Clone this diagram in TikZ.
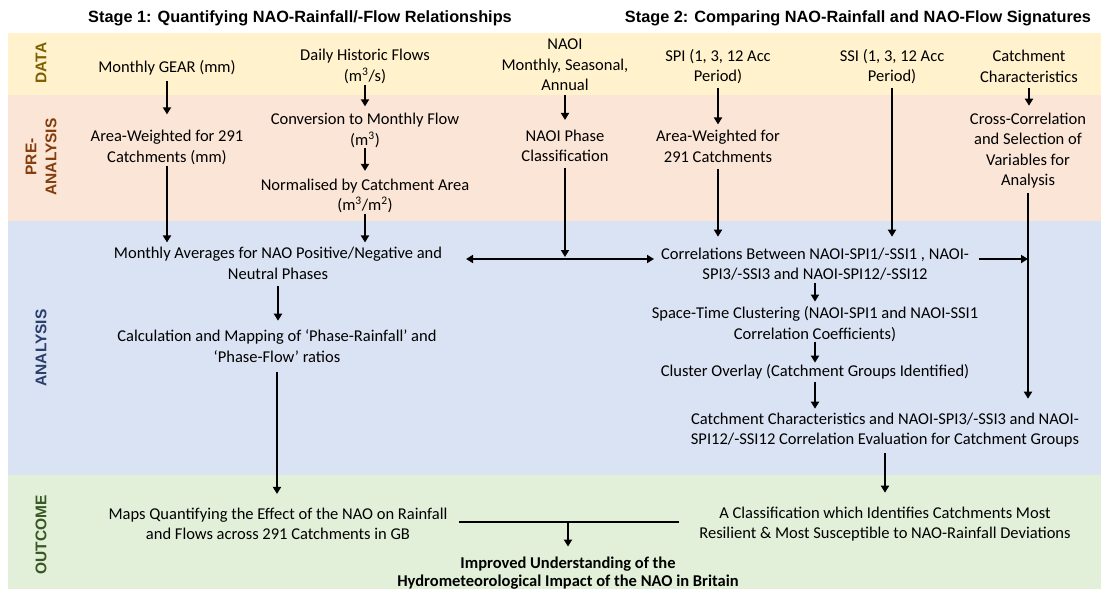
\documentclass[tikz,border=0pt]{standalone}
\usepackage{fontspec}
\setmainfont{Carlito}
\newfontfamily\hdfont{Liberation Sans}
\usetikzlibrary{arrows.meta,calc}
\definecolor{bData}{HTML}{FFF2CC}
\definecolor{bPre}{HTML}{FBE5D6}
\definecolor{bAna}{HTML}{DAE3F3}
\definecolor{bOut}{HTML}{E2F0D9}
\definecolor{lData}{HTML}{7F6000}
\definecolor{lPre}{HTML}{843C0C}
\definecolor{lAna}{HTML}{2B3D6B}
\definecolor{lOut}{HTML}{385723}
\begin{document}
\begin{tikzpicture}[x=1pt,y=-1pt,
  txt/.style={align=center, inner sep=0pt, outer sep=0pt, font=\fontsize{16.5}{20.5}\selectfont},
  boldtxt/.style={align=center, inner sep=0pt, outer sep=0pt, font=\fontsize{16.5}{18.5}\selectfont\bfseries},
  header/.style={inner sep=0pt, font=\hdfont\bfseries\fontsize{16.3}{19}\selectfont},
  bandlabel/.style={rotate=90, align=center, inner sep=0pt, font=\hdfont\bfseries\fontsize{15.5}{20}\selectfont},
  arr/.style={line width=2pt, -{Triangle[length=7pt,width=8pt]}},
  darr/.style={line width=2pt, {Triangle[length=7pt,width=8pt]}-{Triangle[length=7pt,width=8pt]}},
  plain/.style={line width=2pt}]
\useasboundingbox (0,0) rectangle (1101,589);
\fill[white] (0,0) rectangle (1101,589);
% bands
\fill[bData] (8,33) rectangle (1101,95);
\fill[bPre] (8,95) rectangle (1101,221);
\fill[bAna] (8,221) rectangle (1101,475);
\fill[bOut] (8,475) rectangle (1101,589);
% band labels
\node[bandlabel, text=lData] (lbData) at (41,63) {DATA};
\node[bandlabel, text=lPre] (lbPre) at (41,157) {PRE-\\ANALYSIS};
\node[bandlabel, text=lAna] (lbAna) at (41,348) {ANALYSIS};
\node[bandlabel, text=lOut] (lbOut) at (41,535) {OUTCOME};
% headers
\node[header] (h1) at (300,18) {Stage 1: Quantifying NAO-Rainfall/-Flow Relationships};
\node[header] (h2) at (858,18) {Stage 2: Comparing NAO-Rainfall and NAO-Flow Signatures};
% data row
\node[txt] (gear) at (167,68) {Monthly GEAR (mm)};
\node[txt] (flows) at (365,66.5) {Daily Historic Flows\\(m\textsuperscript{3}/s)};
\node[txt] (naoi) at (565,65) {NAOI\\Monthly, Seasonal,\\Annual};
\node[txt] (spi) at (718,66.5) {SPI (1, 3, 12 Acc\\Period)};
\node[txt] (ssi) at (892,66.5) {SSI (1, 3, 12 Acc\\Period)};
\node[txt] (cc) at (1029,66.5) {Catchment\\Characteristics};
% pre-analysis row
\node[txt] (aw1) at (167,147.5) {Area-Weighted for 291\\Catchments (mm)};
\node[txt] (conv) at (365,130.5) {Conversion to Monthly Flow\\(m\textsuperscript{3})};
\node[txt] (norm) at (365,196) {Normalised by Catchment Area\\(m\textsuperscript{3}/m\textsuperscript{2})};
\node[txt] (naoip) at (565,146) {NAOI Phase\\Classification};
\node[txt] (aw2) at (718,146.5) {Area-Weighted for\\291 Catchments};
\node[txt] (ccsel) at (1028,150.5) {Cross-Correlation\\and Selection of\\Variables for\\Analysis};
% analysis
\node[txt] (mavg) at (278,263.5) {Monthly Averages for NAO Positive/Negative and\\Neutral Phases};
\node[txt] (corr) at (815,264) {Correlations Between NAOI-SPI1/-SSI1 , NAOI-\\SPI3/-SSI3 and NAOI-SPI12/-SSI12};
\node[txt] (calc) at (277,346) {Calculation and Mapping of ‘Phase-Rainfall’ and\\‘Phase-Flow’ ratios};
\node[txt] (stc) at (815,324) {Space-Time Clustering (NAOI-SPI1 and NAOI-SSI1\\Correlation Coefficients)};
\node[txt] (co) at (815,372) {Cluster Overlay (Catchment Groups Identified)};
\node[txt] (charac) at (885,430) {Catchment Characteristics and NAOI-SPI3/-SSI3 and NAOI-\\SPI12/-SSI12 Correlation Evaluation for Catchment Groups};
% outcome
\node[txt] (maps) at (278,524) {Maps Quantifying the Effect of the NAO on Rainfall\\and Flows across 291 Catchments in GB};
\node[txt] (class) at (885,524) {A Classification which Identifies Catchments Most\\Resilient \& Most Susceptible to NAO-Rainfall Deviations};
\node[boldtxt] (impr) at (568,573) {Improved Understanding of the\\Hydrometeorological Impact of the NAO in Britain};
% arrows data -> pre
\draw[arr, shorten <=5.5pt, shorten >=16pt] (gear.south) -- (gear.south |- aw1.north);
\draw[arr, shorten <=1.5pt, shorten >=7pt] (flows.south) -- (flows.south |- conv.north);
\draw[arr, shorten <=3.7pt, shorten >=10pt] (naoi.south) -- (naoi.south |- naoip.north);
\draw[arr, shorten <=4.5pt, shorten >=6pt] (spi.south) -- (spi.south |- aw2.north);
\draw[arr, shorten <=4.5pt, shorten >=11pt] (ssi.south) -- (ssi.south |- corr.north);
\draw[arr, shorten <=5.7pt, shorten >=7pt] (cc.south) -- (cc.south |- ccsel.north);
% pre-analysis
\draw[arr, shorten <=0.5pt, shorten >=8pt] (conv.south) -- (conv.south |- norm.north);
\draw[arr, shorten <=1.5pt, shorten >=5pt] (aw1.south) -- (aw1.south |- mavg.north);
\draw[arr, shorten <=0.5pt, shorten >=5pt] (norm.south) -- (norm.south |- mavg.north);
\draw[arr, shorten <=6.7pt, shorten >=11pt] (aw2.south) -- (aw2.south |- corr.north);
% double arrow between stage 1 and stage 2
\coordinate (dl) at ([xshift=24pt,yshift=4.5pt]mavg.east);
\coordinate (dr) at ([xshift=-7pt,yshift=5pt]corr.west);
\draw[darr] (dl) -- (dr);
\draw[arr, shorten <=5.7pt, shorten >=2pt] (naoip.south) -- (naoip.south |- dl);
% correlation -> catchment path
\draw[arr, shorten <=4.5pt, shorten >=14pt] (ccsel.south) -- (ccsel.south |- charac.north);
\draw[arr, shorten <=10pt] ([yshift=5pt]corr.east) -- ([yshift=5pt]corr.east -| ccsel.south);
% analysis chains
\draw[arr, shorten <=6.7pt, shorten >=9pt] (mavg.south) -- (mavg.south |- calc.north);
\draw[arr, shorten <=9.7pt, shorten >=14pt] (calc.south) -- (calc.south |- maps.north);
\draw[arr, shorten <=2.5pt, shorten >=5pt] (corr.south) -- (corr.south |- stc.north);
\draw[arr, shorten <=0.5pt, shorten >=2pt] (stc.south) -- (stc.south |- co.north);
\draw[arr, shorten <=2.5pt, shorten >=4pt] (co.south) -- (co.south |- charac.north);
\draw[arr, shorten <=5.5pt, shorten >=14pt] (charac.south) -- (charac.south |- class.north);
% outcome merge
\coordinate (ml) at ([xshift=12pt,yshift=2pt]maps.east);
\coordinate (mr) at ([xshift=-20pt,yshift=2pt]class.west);
\draw[plain] (ml) -- (mr);
\draw[arr, shorten >=10pt] (impr.north |- ml) -- (impr.north);
\end{tikzpicture}
\end{document}
